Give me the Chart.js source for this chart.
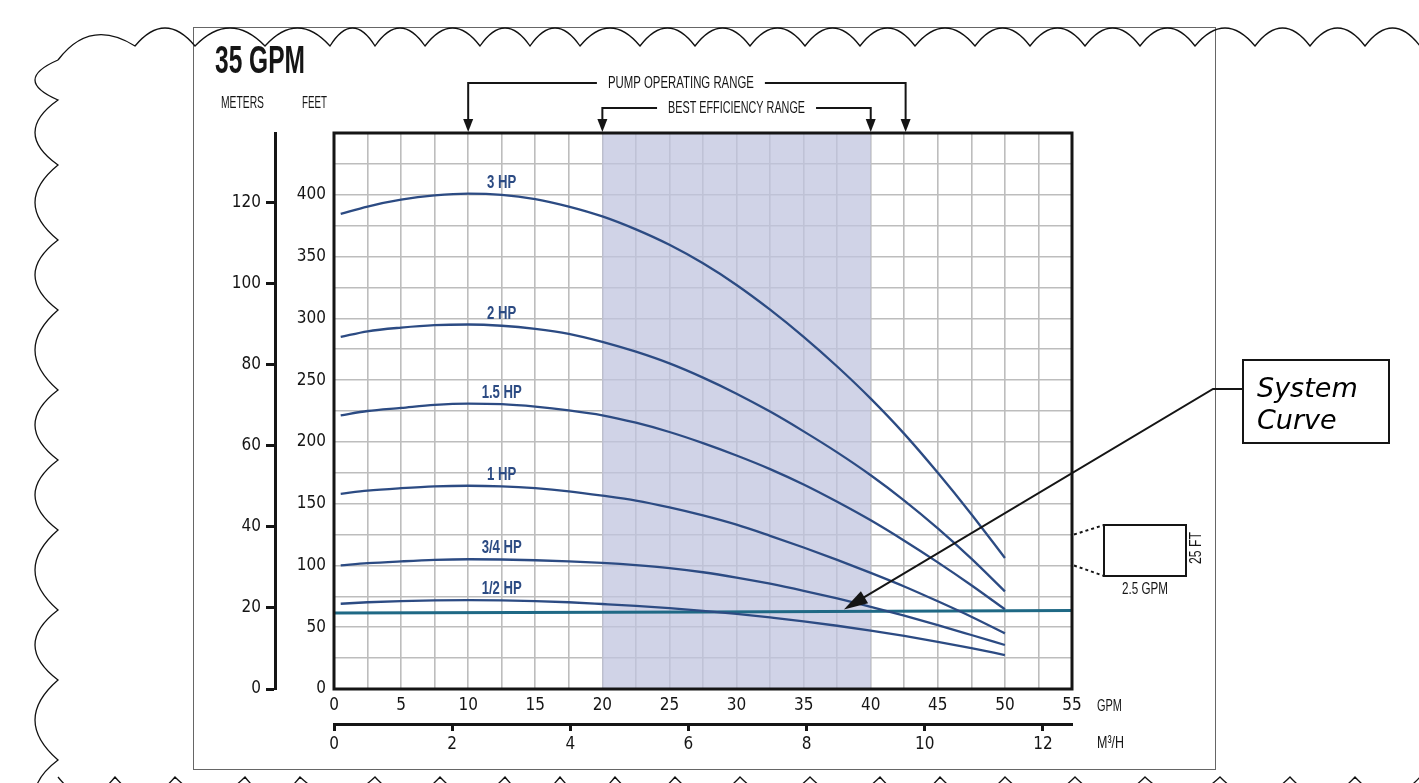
<!DOCTYPE html>
<html>
<head>
<meta charset="utf-8">
<script src="https://cdn.jsdelivr.net/npm/chart.js@4.4.1/dist/chart.umd.min.js"></script>
<style>
  html, body { margin: 0; padding: 0; background: #ffffff; }
  #wrap { width: 1419px; height: 783px; position: relative; }
  canvas { display: block; }
</style>
</head>
<body>
<div id="wrap"><canvas id="c" width="1419" height="783"></canvas></div>
<script>
// ---------------- DATA ----------------
const title = '35 GPM';
const gpm = [0.5, 2.5, 5, 7.5, 10, 12.5, 15, 17.5, 20, 22.5, 25, 27.5, 30, 32.5, 35, 37.5, 40, 42.5, 45, 47.5, 50];
const hp3   = [384.5, 390.5, 396, 399.5, 401, 400, 396.5, 390.5, 382.5, 372, 359.5, 344.5, 327, 307, 285, 261, 235, 206.5, 175, 141.5, 106];
const hp2   = [285, 289.5, 292.5, 294.5, 295, 294, 291.5, 287.5, 281, 273, 263.5, 252, 239, 224.5, 208.5, 191.5, 173, 152.5, 130, 105.5, 79];
const hp15  = [221.5, 225, 227.5, 230, 231, 230.5, 228.5, 225.5, 221.5, 215.5, 208, 199, 189, 178, 165.5, 151.5, 136.5, 120, 102.5, 84, 64.5];
const hp1   = [158, 160.5, 162.5, 164, 164.5, 164, 162.5, 160, 156.5, 152.5, 147, 140.5, 133, 124, 114.5, 104.5, 94, 83, 71, 58.5, 45];
const hp075 = [100, 101.8, 103.3, 104.5, 105, 104.8, 104.2, 103.3, 102, 100.2, 97.8, 94.5, 90.2, 85.2, 79.5, 73.3, 66.5, 59.3, 51.7, 43.7, 35.6];
const hp05  = [69, 70.2, 71.2, 71.8, 72, 71.8, 71.2, 70.2, 68.8, 67.3, 65.5, 63.3, 60.8, 57.9, 54.8, 51.2, 47.3, 43, 38.2, 33, 27.5];
const curveNames = ['3 HP', '2 HP', '1.5 HP', '1 HP', '3/4 HP', '1/2 HP'];
const systemGpm = [0, 27.5, 55];
const systemFt  = [61.5, 62.3, 63.5];
const gpmTicks   = [0, 5, 10, 15, 20, 25, 30, 35, 40, 45, 50, 55];
const feetTicks  = [0, 50, 100, 150, 200, 250, 300, 350, 400];
const meterTicks = [0, 20, 40, 60, 80, 100, 120];
const m3hTicks   = [0, 2, 4, 6, 8, 10, 12];
const operatingRange = [10, 42.6];
const bestEfficiencyRange = [20, 40];
const systemArrowGpm = 38;
const labelGpm = 12.5;
const FT_PER_M = 3.28084;
const GPM_PER_M3H = 4.40287;

// ---------------- STYLE ----------------
const curveColor = '#2c4b83';
const systemColor = '#1f6985';
const ink = '#151515';
const NARROW = "'Liberation Sans Narrow','DejaVu Sans Condensed','Arial Narrow','Liberation Sans',sans-serif";
const tickFont = { family: NARROW, size: 17 };

const series = [hp3, hp2, hp15, hp1, hp075, hp05];
const datasets = series.map((s, i) => ({
  label: curveNames[i],
  data: gpm.map((g, j) => ({ x: g, y: s[j] })),
  borderColor: curveColor,
  borderWidth: 2.3,
  pointRadius: 0,
  showLine: true,
  cubicInterpolationMode: 'monotone',
  xAxisID: 'x', yAxisID: 'y'
}));
datasets.push({
  label: 'System Curve',
  data: systemGpm.map((g, j) => ({ x: g, y: systemFt[j] })),
  borderColor: systemColor,
  borderWidth: 3,
  pointRadius: 0,
  showLine: true,
  tension: 0,
  xAxisID: 'x', yAxisID: 'y'
});

function stepTicks(lo, hi, st) { const a = []; for (let v = lo; v <= hi + 1e-9; v += st) a.push({ value: +v.toFixed(4) }); return a; }

function fitText(ctx, txt, x, y, w, font, color, align) {
  ctx.save();
  ctx.font = font; ctx.fillStyle = color || ink; ctx.textBaseline = 'middle';
  const m = ctx.measureText(txt).width;
  const s = w / m;
  ctx.translate(x, y); ctx.scale(s, 1);
  ctx.textAlign = align || 'center';
  ctx.fillText(txt, 0, 0);
  ctx.restore();
}
function arrowHead(ctx, tx, ty, fx, fy, len, half) {
  const a = Math.atan2(ty - fy, tx - fx);
  ctx.beginPath();
  ctx.moveTo(tx, ty);
  ctx.lineTo(tx - len * Math.cos(a) + half * Math.sin(a), ty - len * Math.sin(a) - half * Math.cos(a));
  ctx.lineTo(tx - len * Math.cos(a) - half * Math.sin(a), ty - len * Math.sin(a) + half * Math.cos(a));
  ctx.closePath(); ctx.fill();
}
function scallops(ctx, pts, bulge) {
  ctx.beginPath();
  ctx.moveTo(pts[0][0], pts[0][1]);
  for (let i = 1; i < pts.length; i++) {
    const [x0, y0] = pts[i - 1], [x1, y1] = pts[i];
    const dx = x1 - x0, dy = y1 - y0, L = Math.hypot(dx, dy);
    const nx = dy / L, ny = -dx / L;
    ctx.quadraticCurveTo((x0 + x1) / 2 + nx * bulge * 2, (y0 + y1) / 2 + ny * bulge * 2, x1, y1);
  }
  ctx.stroke();
}
function systemAt(g) {
  for (let i = 1; i < systemGpm.length; i++) {
    if (g <= systemGpm[i]) {
      const t = (g - systemGpm[i - 1]) / (systemGpm[i] - systemGpm[i - 1]);
      return systemFt[i - 1] + t * (systemFt[i] - systemFt[i - 1]);
    }
  }
  return systemFt[systemFt.length - 1];
}

const decor = {
  id: 'decor',
  beforeDraw(chart) {
    const ctx = chart.ctx;
    ctx.save();
    ctx.fillStyle = '#fff'; ctx.fillRect(0, 0, chart.width, chart.height);
    ctx.strokeStyle = '#666'; ctx.lineWidth = 1;
    ctx.strokeRect(193.5, 27.5, 1022, 742);
    ctx.strokeStyle = '#111'; ctx.lineWidth = 1.3;
    const topX = [58, 135, 195, 265, 330, 375, 425, 480, 530, 580, 640, 695, 750, 805, 860, 915, 975, 1030, 1085, 1140, 1195, 1255, 1310, 1365, 1420, 1475];
    scallops(ctx, topX.map((x, i) => [x, i === 0 ? 60 : 46]), 18);
    const leftY = [830, 760, 680, 610, 530, 460, 390, 310, 240, 165, 100, 60];
    scallops(ctx, leftY.map(y => [58, y]), 23);
    const botX = [1480, 1420, 1355, 1290, 1220, 1145, 1075, 1005, 940, 880, 810, 740, 675, 615, 560, 505, 440, 375, 300, 245, 175, 115, 58];
    scallops(ctx, botX.map(x => [x, 777]), 18);
    ctx.restore();
  },
  beforeDatasetsDraw(chart) {
    const ctx = chart.ctx, xs = chart.scales.x, a = chart.chartArea;
    const x1 = xs.getPixelForValue(bestEfficiencyRange[0]), x2 = xs.getPixelForValue(bestEfficiencyRange[1]);
    ctx.save();
    ctx.fillStyle = 'rgba(192,196,222,0.74)';
    ctx.fillRect(x1, a.top, x2 - x1, a.bottom - a.top);
    ctx.restore();
  },
  afterDatasetsDraw(chart) {
    const ctx = chart.ctx, xs = chart.scales.x, ys = chart.scales.y;
    const idx = gpm.indexOf(labelGpm);
    series.forEach((s, i) => {
      const x = xs.getPixelForValue(labelGpm);
      const y = ys.getPixelForValue(s[idx]) - 11.5;
      ctx.save();
      ctx.font = "bold 18px 'Liberation Sans',sans-serif";
      ctx.fillStyle = curveColor; ctx.textAlign = 'center'; ctx.textBaseline = 'middle';
      ctx.translate(x, y); ctx.scale(0.73, 1);
      ctx.fillText(curveNames[i], 0, 0);
      ctx.restore();
    });
  },
  afterDraw(chart) {
    const ctx = chart.ctx, xs = chart.scales.x, ys = chart.scales.y, a = chart.chartArea;
    ctx.save();
    ctx.strokeStyle = ink; ctx.lineWidth = 3;
    ctx.strokeRect(a.left, a.top, a.right - a.left, a.bottom - a.top);

    const F = "17px 'Liberation Sans',sans-serif";
    fitText(ctx, title, 260, 63, 90, "bold 38px 'Liberation Sans',sans-serif", ink);
    fitText(ctx, 'METERS', 242.5, 103, 43, F, ink);
    fitText(ctx, 'FEET', 314.5, 103, 25, F, ink);
    fitText(ctx, 'GPM', a.right + 25, xs.bottom - 18, 25, F, ink, 'left');
    fitText(ctx, 'M³/H', a.right + 25, 743, 27, F, ink, 'left');

    ctx.strokeStyle = ink; ctx.fillStyle = ink; ctx.lineWidth = 2;
    function range(r, y, txt, w) {
      const xa = xs.getPixelForValue(r[0]), xb = xs.getPixelForValue(r[1]);
      const cx = (xa + xb) / 2 - (r === operatingRange ? 6 : 0);
      ctx.beginPath();
      ctx.moveTo(xa, a.top - 12); ctx.lineTo(xa, y); ctx.lineTo(cx - w / 2 - 11, y);
      ctx.moveTo(cx + w / 2 + 11, y); ctx.lineTo(xb, y); ctx.lineTo(xb, a.top - 12);
      ctx.stroke();
      arrowHead(ctx, xa, a.top - 1, xa, y, 13, 5);
      arrowHead(ctx, xb, a.top - 1, xb, y, 13, 5);
      fitText(ctx, txt, cx, y, w, F, ink);
    }
    range(operatingRange, 83, 'PUMP OPERATING RANGE', 146);
    range(bestEfficiencyRange, 108, 'BEST EFFICIENCY RANGE', 137);

    const yTop = ys.getPixelForValue(125), yBot = ys.getPixelForValue(100);
    ctx.lineWidth = 2;
    ctx.strokeRect(1104, 525, 82, 51);
    ctx.setLineDash([3, 3]);
    ctx.beginPath();
    ctx.moveTo(a.right + 2, yTop); ctx.lineTo(1104, 525);
    ctx.moveTo(a.right + 2, yBot); ctx.lineTo(1104, 576);
    ctx.stroke();
    ctx.setLineDash([]);
    fitText(ctx, '2.5 GPM', 1145, 590, 46, "16px 'Liberation Sans',sans-serif", ink);
    ctx.save();
    ctx.translate(1197, 548); ctx.rotate(-Math.PI / 2);
    fitText(ctx, '25 FT', 0, 0, 32, "16px 'Liberation Sans',sans-serif", ink);
    ctx.restore();

    ctx.lineWidth = 2;
    ctx.strokeRect(1243, 360, 146, 83);
    ctx.save();
    ctx.font = "italic 27px 'DejaVu Sans',sans-serif"; ctx.fillStyle = '#000';
    ctx.textAlign = 'left'; ctx.textBaseline = 'alphabetic';
    ctx.fillText('System', 1257, 397);
    ctx.fillText('Curve', 1257, 429);
    ctx.restore();
    const tx = xs.getPixelForValue(systemArrowGpm), ty = ys.getPixelForValue(systemAt(systemArrowGpm)) - 2;
    ctx.lineWidth = 2;
    ctx.beginPath();
    ctx.moveTo(1243, 389); ctx.lineTo(1213, 389); ctx.lineTo(tx + 15, ty - 9);
    ctx.stroke();
    arrowHead(ctx, tx, ty, 1213, 389, 24, 7);
    ctx.restore();
  }
};

new Chart(document.getElementById('c'), {
  type: 'scatter',
  data: { datasets },
  options: {
    responsive: false,
    animation: false,
    devicePixelRatio: 1,
    layout: { padding: { left: 200, right: 347, top: 133, bottom: 30 } },
    plugins: { legend: { display: false }, tooltip: { enabled: false } },
    scales: {
      x: {
        type: 'linear', position: 'bottom', min: 0, max: 55, weight: 0,
        afterBuildTicks: s => { s.ticks = stepTicks(0, 55, 2.5); },
        afterFit: s => { s.height = 35; },
        grid: { color: '#bdbdbd', lineWidth: 1.6, drawTicks: false },
        border: { display: false },
        ticks: { font: tickFont, color: ink, padding: 6, maxRotation: 0, autoSkip: false,
                 callback: v => gpmTicks.includes(v) ? String(v) : '' }
      },
      x2: {
        type: 'linear', position: 'bottom', min: 0, max: 55 / GPM_PER_M3H, weight: 1,
        afterBuildTicks: s => { s.ticks = m3hTicks.map(v => ({ value: v })); },
        afterFit: s => { s.height = 783 - 724 - 30; },
        grid: { drawOnChartArea: false, drawTicks: true, tickLength: 7, tickWidth: 3, tickColor: ink },
        border: { display: true, color: ink, width: 3 },
        ticks: { font: tickFont, color: ink, padding: 3, maxRotation: 0, autoSkip: false }
      },
      y: {
        type: 'linear', position: 'left', min: 0, max: 450, weight: 0,
        afterBuildTicks: s => { s.ticks = stepTicks(0, 450, 25); },
        afterFit: s => { s.width = 59; },
        grid: { color: '#bdbdbd', lineWidth: 1.6, drawTicks: false },
        border: { display: false },
        ticks: { font: tickFont, color: ink, padding: 8, autoSkip: false,
                 callback: v => feetTicks.includes(v) ? String(v) : '' }
      },
      y2: {
        type: 'linear', position: 'left', min: 0, max: 450 / FT_PER_M, weight: 1,
        afterBuildTicks: s => { s.ticks = meterTicks.map(v => ({ value: v })); },
        afterFit: s => { s.width = 75; },
        grid: { drawOnChartArea: false, drawTicks: true, tickLength: 9, tickWidth: 3, tickColor: ink },
        border: { display: true, color: ink, width: 3 },
        ticks: { font: tickFont, color: ink, padding: 5, autoSkip: false }
      }
    }
  },
  plugins: [decor]
});
</script>
</body>
</html>
